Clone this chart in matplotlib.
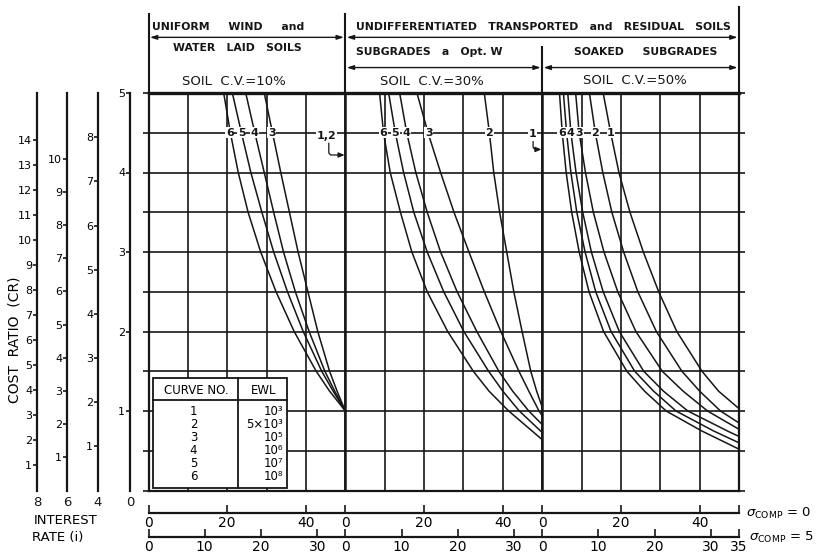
import numpy as np
import matplotlib.pyplot as plt
from matplotlib.patches import Rectangle

ink = '#161616'

# cost ratio (0 % interest) at the rows the curves were read on
cr_rows = [5.0, 4.5, 4.0, 3.5, 3.0, 2.5, 2.0, 1.5, 1.25, 1.0, 0.75]

# sigma_comp = 0 scale position (0-50 in each panel) of every curve at cr_rows,
# plus the cost ratio where the curve runs into the right edge (x = 50)
cv10_x = {
    '3': [29.4, 31.5, 33.6, 35.8, 38.0, 40.5, 43.0, 46.0, 47.9],
    '4': [24.7, 27.0, 29.4, 31.8, 34.3, 37.3, 40.8, 44.8, 47.3],
    '5': [21.3, 23.6, 26.0, 28.8, 31.8, 35.3, 39.3, 44.0, 46.9],
    '6': [19.1, 20.8, 22.8, 25.3, 28.5, 32.4, 37.0, 42.6, 46.0],
}
cv10_end = {'3': 1.0, '4': 1.0, '5': 1.0, '6': 1.0}

cv30_x = {
    '2': [35.3, 36.6, 37.7, 39.2, 41.0, 42.8, 44.9, 47.1, 48.6],
    '3': [18.2, 21.0, 24.2, 27.6, 31.4, 35.3, 39.5, 44.1, 46.6, 49.2],
    '4': [13.8, 15.6, 17.9, 20.8, 24.2, 28.4, 33.4, 39.0, 42.5, 46.6],
    '5': [11.0, 12.7, 14.8, 17.4, 20.8, 25.0, 30.1, 36.4, 40.0, 44.2],
    '6': [8.7, 9.7, 11.4, 14.0, 16.9, 20.8, 26.0, 32.5, 36.5, 41.5],
}
cv30_end = {'2': 1.05, '3': 0.94, '4': 0.83, '5': 0.73, '6': 0.64}

cv50_x = {
    '1': [15.5, 17.4, 19.5, 22.3, 25.7, 29.6, 34.2, 40.6, 44.8],
    '2': [12.0, 13.5, 15.4, 17.7, 20.7, 24.3, 29.0, 35.5, 40.0, 45.3],
    '3': [8.5, 9.4, 11.0, 13.0, 15.7, 19.2, 23.8, 30.5, 35.8, 42.0],
    '4': [6.5, 7.3, 8.6, 10.3, 12.5, 15.5, 19.6, 25.8, 30.8, 37.0, 47.0],
    '5': [5.4, 6.2, 7.3, 8.8, 10.9, 13.6, 17.5, 23.5, 28.3, 34.0, 43.5],
    '6': [4.4, 5.1, 6.1, 7.5, 9.4, 11.9, 15.6, 21.5, 26.0, 31.5, 40.5],
}
cv50_end = {'1': 1.03, '2': 0.85, '3': 0.77, '4': 0.68, '5': 0.60, '6': 0.52}

# curve numbers written along the 4.5 row
cv10_labels = {'6': 20.7, '5': 23.7, '4': 27.0, '3': 31.3}
cv30_labels = {'6': 9.6, '5': 12.7, '4': 15.5, '3': 21.2, '2': 36.6}
cv50_labels = {'6': 5.0, '4': 7.2, '3': 9.4, '2': 13.5, '1': 17.5}

curve_no = ['1', '2', '3', '4', '5', '6']
ewl = ['10³', '5×10³', '10⁵', '10⁶', '10⁷', '10⁸']

# interest rate scales on the left
interest_rates = [8, 6, 4, 0]
cr_top = [14, 10, 8, 5]
design_years = 15

sig0_ticks = [0, 20, 40]
sig5_ticks = [0, 10, 20, 30]

W, Hh = 816, 555
fig = plt.figure(figsize=(W / 100, Hh / 100), dpi=100)
fig.patch.set_facecolor('white')

x0, x1, ytop, ybot = 148.5, 739, 93, 490.5
L, B = x0 / W, 1 - ybot / Hh
AW, AH = (x1 - x0) / W, (ybot - ytop) / Hh

ax = fig.add_axes([L, B, AW, AH])
ax.set_xlim(0, 150)
ax.set_ylim(0, 5)
ax.set_xticks(np.arange(0, 151, 10))
ax.set_yticks(np.arange(0, 5.01, 0.5))
ax.grid(True, color=ink, lw=1.2, zorder=0)
ax.tick_params(axis='x', length=0, labelbottom=False)
ax.tick_params(axis='y', length=4, width=1.2, color=ink, labelleft=False,
               left=True, right=True)
for s in ax.spines.values():
    s.set_linewidth(1.6)
    s.set_color(ink)
ax.spines['top'].set_linewidth(2.4)
for xb in (50, 100):
    ax.axvline(xb, color=ink, lw=1.8, zorder=1)

# curves
for k, (curves, ends) in enumerate([(cv10_x, cv10_end), (cv30_x, cv30_end), (cv50_x, cv50_end)]):
    off = 50 * k
    for name, xs in curves.items():
        px = [off + v for v in xs] + [off + 50]
        py = cr_rows[:len(xs)] + [ends[name]]
        ax.plot(px, py, color=ink, lw=1.1, zorder=3, solid_joinstyle='round')

lab_kw = dict(fontsize=8, fontweight='bold', ha='center', va='center', color=ink,
              zorder=5, bbox=dict(boxstyle='square,pad=0.05', fc='white', ec='none'))
for k, labels in enumerate([cv10_labels, cv30_labels, cv50_labels]):
    for name, xv in labels.items():
        ax.text(50 * k + xv, 4.5, name, **lab_kw)

# curves 1,2 (10 %) and 1 (30 %) lie on the panel edge
hook = dict(arrowstyle='-|>,head_length=0.35,head_width=0.15', color=ink, lw=0.9,
            shrinkA=0, shrinkB=0, connectionstyle='angle,angleA=-90,angleB=180,rad=3')
ax.text(45.2, 4.46, '1,2', **lab_kw)
ax.annotate('', xy=(49.8, 4.22), xytext=(45.8, 4.37), arrowprops=hook)
ax.text(97.6, 4.48, '1', **lab_kw)
ax.annotate('', xy=(99.8, 4.29), xytext=(97.7, 4.39), arrowprops=hook)

# curve / EWL table
ax.add_patch(Rectangle((1.1, 0.03), 34.1, 1.38, fc='white', ec=ink, lw=1.3, zorder=6))
ax.plot([1.1, 35.2], [1.14, 1.14], color=ink, lw=1.3, zorder=7)
ax.plot([22.8, 22.8], [0.03, 1.41], color=ink, lw=1.3, zorder=7)
ax.text(12.2, 1.26, 'CURVE NO.', fontsize=8.5, ha='center', va='center', zorder=7)
ax.text(29.3, 1.26, 'EWL', fontsize=8.5, ha='center', va='center', zorder=7)
row_y = np.linspace(0.99, 0.17, len(curve_no))
for yv, c, e in zip(row_y, curve_no, ewl):
    ax.text(11.4, yv, c, fontsize=8.5, ha='center', va='center', zorder=7)
    ax.text(34.2, yv, e, fontsize=8.5, ha='right', va='center', zorder=7)

# header block above the grid
hk = dict(color=ink, lw=1.5, clip_on=False)
ax.plot([0, 0], [5, 6.0], **hk)
ax.plot([50, 50], [5, 6.0], **hk)
ax.plot([100, 100], [5, 5.58], **hk)
ax.plot([150, 150], [5, 6.08], **hk)
arr = dict(arrowstyle='<|-|>,head_length=0.4,head_width=0.13', color=ink, lw=1.0,
           shrinkA=1, shrinkB=1)
for (a, b), yv in [((0, 50), 5.70), ((50, 150), 5.70), ((50, 100), 5.32), ((100, 150), 5.32)]:
    ax.annotate('', xy=(b, yv), xytext=(a, yv), arrowprops=arr, annotation_clip=False)

tk = dict(fontsize=7.8, fontweight='bold', va='center', color=ink, clip_on=False)
ax.text(1.0, 5.83, 'UNIFORM     WIND     and', ha='left', **tk)
ax.text(100.3, 5.83, 'UNDIFFERENTIATED   TRANSPORTED   and   RESIDUAL   SOILS',
        ha='center', **tk)
ax.text(22.5, 5.56, 'WATER   LAID   SOILS', ha='center', **tk)
ax.text(71.4, 5.51, 'SUBGRADES   a   Opt. W', ha='center', **tk)
ax.text(126.3, 5.51, 'SOAKED     SUBGRADES', ha='center', **tk)
tk.update(fontsize=9.5, fontweight='normal')
ax.text(21.7, 5.15, 'SOIL  C.V.=10%', ha='center', **tk)
ax.text(72, 5.15, 'SOIL  C.V.=30%', ha='center', **tk)
ax.text(123.5, 5.16, 'SOIL  C.V.=50%', ha='center', **tk)

# cost ratio scales for each interest rate
scale_xpx = [37, 67, 98, 130]
for rate, xpx, top in zip(interest_rates, scale_xpx, cr_top):
    f = (1 + rate / 100) ** design_years
    sax = fig.add_axes([xpx / W, B, 0.0001, AH])
    sax.patch.set_visible(False)
    sax.set_ylim(0, 5 * f)
    for s in ('top', 'right', 'bottom'):
        sax.spines[s].set_visible(False)
    sax.spines['left'].set_linewidth(1.6)
    sax.spines['left'].set_color(ink)
    sax.set_xticks([])
    sax.set_yticks(range(1, top + 1))
    sax.tick_params(axis='y', direction='out', length=3, width=1.2, color=ink,
                    labelsize=8, pad=0.5)
    sax.text(0, -0.029, str(rate), transform=sax.transAxes, ha='center',
             va='center', fontsize=9.5, color=ink)

fig.text(66 / W, 1 - 520 / Hh, 'INTEREST', ha='center', va='center', fontsize=9.5)
fig.text(58 / W, 1 - 537 / Hh, 'RATE (i)', ha='center', va='center', fontsize=9.5)
fig.text(14 / W, 1 - 340 / Hh, 'COST  RATIO  (CR)', rotation=90, ha='center',
         va='center', fontsize=10)

# sigma_comp scales under the grid
for ypx, span, ticks, last in [(513, 50, sig0_ticks, ''), (537, 35, sig5_ticks, '35')]:
    bax = fig.add_axes([L, 1 - ypx / Hh, AW, 0.0001])
    bax.patch.set_visible(False)
    bax.set_xlim(0, 3 * span)
    for s in ('top', 'right', 'left'):
        bax.spines[s].set_visible(False)
    bax.spines['bottom'].set_linewidth(1.6)
    bax.spines['bottom'].set_color(ink)
    bax.set_yticks([])
    pos = [p * span + t for p in range(3) for t in ticks] + [3 * span]
    labs = [str(t) for p in range(3) for t in ticks] + [last]
    bax.set_xticks(pos)
    bax.set_xticklabels(labs)
    bax.tick_params(axis='x', direction='in', length=6, width=1.2, color=ink,
                    labelsize=10, pad=2)

fig.text(746 / W, 1 - 513 / Hh, r'$\sigma_{\rm COMP}$ = 0', va='center', fontsize=9.5)
fig.text(749 / W, 1 - 537 / Hh, r'$\sigma_{\rm COMP}$ = 5', va='center', fontsize=9.5)

fig.savefig('out.png', dpi=100)
